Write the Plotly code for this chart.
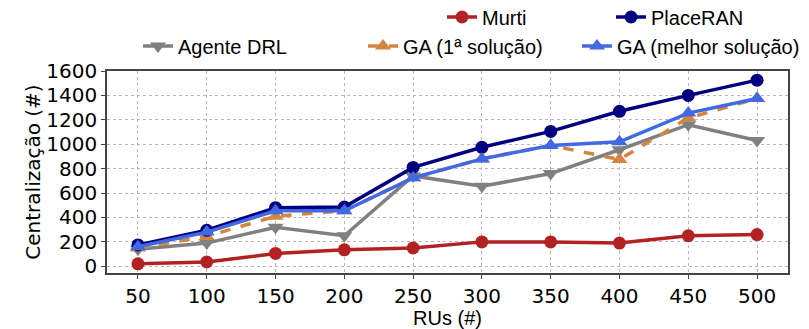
import plotly.graph_objects as go

# Number of radio units on the x axis
rus = [50, 100, 150, 200, 250, 300, 350, 400, 450, 500]

# Centralization obtained by each approach
agente_drl = [140, 190, 320, 250, 740, 655, 760, 955, 1160, 1030]
murti = [20, 35, 105, 135, 150, 200, 200, 190, 250, 260]
ga_primeira = [150, 245, 410, 455, 725, 880, 990, 875, 1215, 1375]
placeran = [175, 295, 480, 485, 810, 975, 1105, 1270, 1400, 1525]
ga_melhor = [160, 280, 455, 455, 725, 880, 990, 1020, 1255, 1375]

y_ticks = [0, 200, 400, 600, 800, 1000, 1200, 1400, 1600]

W, H = 809, 329
L, R, T, B = 107, 21, 71, 56
PW, PH = W - L - R, H - T - B

series = [
    # name, values, colour, symbol, dash, legend id, legend x(px), legend y(px)
    ("Agente DRL", agente_drl, "#808080", "triangle-down", "solid", "legend", 133, 46),
    ("Murti", murti, "#B22222", "circle", "solid", "legend2", 437, 17),
    ("GA (1ª solução)", ga_primeira, "#D2863F", "triangle-up", "dash", "legend3", 358, 46),
    ("PlaceRAN", placeran, "#000080", "circle", "solid", "legend4", 606, 17),
    ("GA (melhor solução)", ga_melhor, "#4169E1", "triangle-up", "solid", "legend5", 572, 46),
]

fig = go.Figure()
legends = {}
for name, vals, color, symbol, dash, leg, lx, ly in series:
    fig.add_trace(go.Scatter(
        x=rus, y=vals, name=name, mode="lines+markers",
        line=dict(color=color, width=3.5, dash=dash),
        marker=dict(color=color, symbol=symbol, size=13 if symbol == "circle" else 14,
                    line=dict(width=0)),
        legend=leg,
    ))
    legends[leg] = dict(
        x=(lx + 5 - L) / PW, y=(H - B - ly) / PH,
        xanchor="left", yanchor="middle",
        bgcolor="rgba(0,0,0,0)", borderwidth=0,
        font=dict(family="Liberation Sans, Arial, sans-serif", size=20, color="#000"),
        itemwidth=30, tracegroupgap=0,
    )

axis_common = dict(
    showline=True, linecolor="#444", linewidth=1.5, mirror=True,
    ticks="outside", ticklen=4, tickcolor="#444", tickwidth=1.2,
    showgrid=True, gridcolor="#b8b8b8", griddash="dot", gridwidth=1,
    zeroline=False, automargin=False,
    tickfont=dict(family="DejaVu Sans, sans-serif", size=20, color="#000"),
)

fig.update_xaxes(
    range=[27.5, 522.5], tickvals=rus, ticktext=[str(v) for v in rus],
    title=dict(text="RUs (#)", standoff=0,
               font=dict(family="Liberation Sans, Arial, sans-serif", size=20, color="#000")),
    **axis_common,
)
fig.update_yaxes(
    range=[-55, 1600], tickvals=y_ticks, ticktext=[str(v) for v in y_ticks],
    title=dict(text="Centralização (#)", standoff=0,
               font=dict(family="DejaVu Sans, sans-serif", size=20, color="#000")),
    **axis_common,
)

fig.update_layout(
    width=W, height=H,
    margin=dict(l=L, r=R, t=T, b=B, autoexpand=False),
    paper_bgcolor="white", plot_bgcolor="white",
    showlegend=True,
    **legends,
)

fig.write_html("out.html")
